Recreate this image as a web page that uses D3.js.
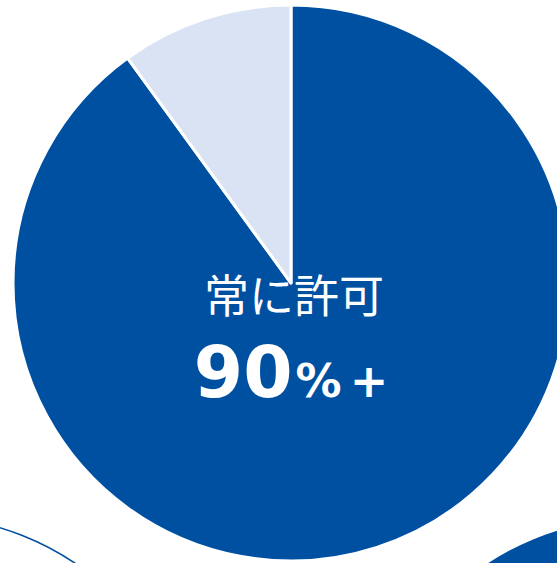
<!DOCTYPE html>
<html>
<head>
<meta charset="utf-8">
<script src="https://d3js.org/d3.v7.min.js"></script>
<style>
  body { margin: 0; background: #fff; overflow: hidden; }
</style>
</head>
<body>
<script>
  var categories = ["常に許可", "その他"];
  var values = [90, 10];
  var colors = ["#0050a2", "#dae3f3"];
  var label_title = "常に許可";
  var label_value = "90";
  var label_suffix = ["%", "+"];

  var width = 557, height = 563;
  var cx = 291, cy = 283, radius = 278;

  var svg = d3.select("body").append("svg")
    .attr("width", width)
    .attr("height", height);

  // neighbouring pies, only partly in view
  svg.append("circle")
    .attr("cx", -80).attr("cy", 794).attr("r", radius)
    .attr("fill", "none").attr("stroke", "#0050a2").attr("stroke-width", 1.6);
  svg.append("circle")
    .attr("cx", 640).attr("cy", 796).attr("r", radius)
    .attr("fill", "#0050a2");

  var pie = d3.pie().sort(null).value(function (d) { return d; });
  var arc = d3.arc().innerRadius(0).outerRadius(radius);

  var g = svg.append("g").attr("transform", "translate(" + cx + "," + cy + ")");
  g.selectAll("path")
    .data(pie(values))
    .enter()
    .append("path")
    .attr("d", arc)
    .attr("fill", function (d, i) { return colors[i]; })
    .attr("stroke", "#fff")
    .attr("stroke-width", 3)
    .attr("stroke-linejoin", "round");

  g.append("text")
    .attr("x", 3).attr("y", 30)
    .attr("text-anchor", "middle")
    .attr("fill", "#fff")
    .style("font-family", "'Noto Sans CJK JP', sans-serif")
    .style("font-size", "45px")
    .text(label_title);

  var t = g.append("text")
    .attr("x", 0).attr("y", 114)
    .attr("text-anchor", "middle")
    .attr("fill", "#fff")
    .style("font-family", "'DejaVu Sans', sans-serif")
    .style("font-weight", "bold");
  t.append("tspan").style("font-size", "71px").text(label_value);
  t.append("tspan").style("font-size", "46px").attr("dx", 3).text(label_suffix[0]);
  t.append("tspan").style("font-size", "46px").attr("dx", 8).text(label_suffix[1]);
</script>
</body>
</html>
